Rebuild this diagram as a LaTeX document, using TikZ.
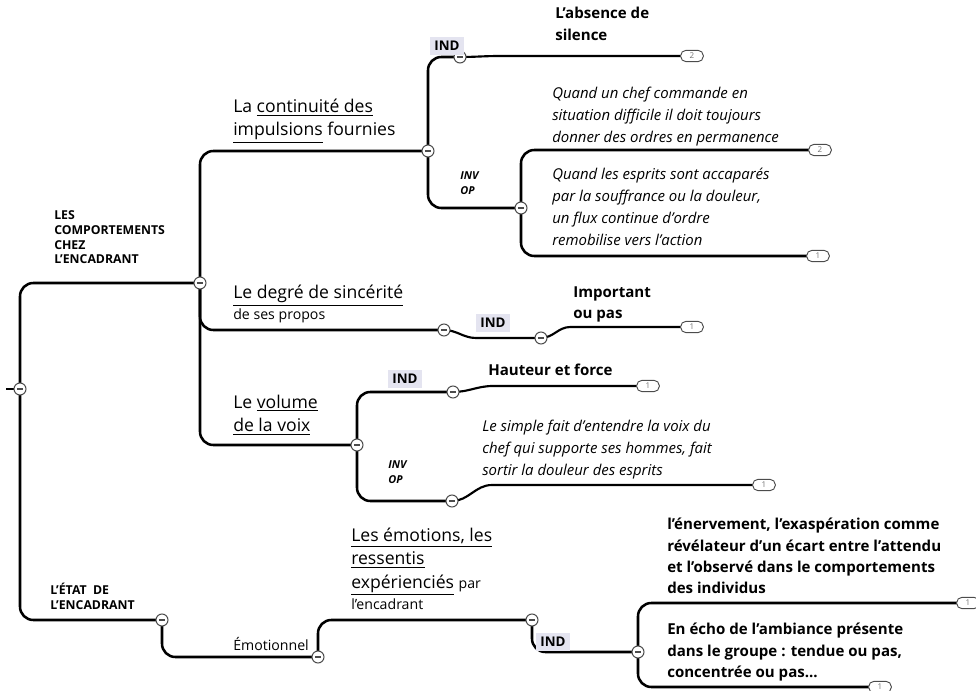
\documentclass[tikz,border=0pt]{standalone}
\usepackage{fontspec}
\setmainfont{Open Sans}
\usetikzlibrary{backgrounds}
\definecolor{indbg}{HTML}{E4E4F0}
\begin{document}
\begin{tikzpicture}[x=0.75pt,y=-0.75pt,
  conn/.style={line width=1.9pt, rounded corners=10pt},
  leaf/.style={line width=1.6pt},
  minus/.style={circle, draw=black!70, line width=0.8pt, fill=white, minimum size=9pt, inner sep=0pt,
    path picture={\draw[line width=0.9pt] ([xshift=-2.3pt]path picture bounding box.center) -- ([xshift=2.3pt]path picture bounding box.center);}},
  pill/.style={draw=black!70, line width=0.7pt, fill=white, rounded corners=4pt, minimum width=17pt, minimum height=8.5pt, inner sep=0pt, font=\fontsize{6}{6}\selectfont, text=black!55},
  indlab/.style={fill=indbg, font=\bfseries\fontsize{10}{11}\selectfont, inner xsep=3.5pt, inner ysep=3pt},
  capsl/.style={font=\bfseries\fontsize{9.2}{11.2}\selectfont, align=left, anchor=north west, inner sep=0pt},
  bigl/.style={font=\fontsize{13.2}{17.4}\selectfont, align=left, anchor=north west, inner sep=0pt},
  smalll/.style={font=\fontsize{10.6}{13}\selectfont, align=left, anchor=north west, inner sep=0pt},
  boldl/.style={font=\bfseries\fontsize{11.3}{16}\selectfont, align=left, anchor=north west, inner sep=0pt},
  itl/.style={font=\itshape\fontsize{11.2}{16.4}\selectfont, align=left, anchor=north west, inner sep=0pt},
  invop/.style={font=\bfseries\itshape\fontsize{8.2}{11.8}\selectfont, align=left, anchor=north west, inner sep=0pt}
]
\useasboundingbox (0,0) rectangle (976,691);

% junction nodes
\node[minus] (r) at (20,389) {};
\node[minus] (c1) at (200,283) {};
\node[minus] (c11) at (428,151) {};
\node[minus] (c111) at (460,57) {};
\node[minus] (c112) at (521,208) {};
\node[minus] (c12) at (444,330) {};
\node[minus] (c121) at (541,338) {};
\node[minus] (c13) at (357,445) {};
\node[minus] (c131) at (453,392) {};
\node[minus] (c132) at (452,501) {};
\node[minus] (c2) at (162,620) {};
\node[minus] (c21) at (318,657) {};
\node[minus] (c211) at (532,620) {};
\node[minus] (c2111) at (638,652) {};
% end pills
\node[pill] (p1) at (692,56) {2};
\node[pill] (p2) at (820,150) {2};
\node[pill] (p3) at (818,256) {1};
\node[pill] (p4) at (692,327) {1};
\node[pill] (p5) at (648,386) {1};
\node[pill] (p6) at (764,485) {1};
\node[pill] (p7) at (968,603) {1};
\node[pill] (p8) at (880,687) {1};
\coordinate (stub) at (6,389);

\begin{scope}[on background layer]
\draw[conn] (stub) -- (r.center);
\draw[conn] (r.center) |- (c1.center);
\draw[conn] (r.center) |- (c2.center);
\draw[conn] (c1.center) |- (c11.center);
\draw[conn] (c1.center) |- (c12.center);
\draw[conn] (c1.center) |- (c13.center);
\draw[conn] (c11.center) |- (c111.center);
\draw[conn] (c11.center) |- (c112.center);
\draw[conn] (c112.center) |- (p2.center);
\draw[conn] (c112.center) |- (p3.center);
\draw[conn] (c13.center) |- (c131.center);
\draw[conn] (c13.center) |- (c132.center);
\draw[conn] (c2.center) |- (c21.center);
\draw[conn] (c21.center) |- (c211.center);
\draw[conn] (c211.center) |- (c2111.center);
\draw[conn] (c2111.center) |- (p7.center);
\draw[conn] (c2111.center) |- (p8.center);
\draw[leaf] (c111.center) to[out=0,in=180] ([xshift=30pt]c111.center |- p1.center) -- (p1.center);
\draw[leaf] (c12.center) to[out=0,in=180] ([xshift=24pt]c12.center |- c121.center) -- (c121.center);
\draw[leaf] (c121.center) to[out=0,in=180] ([xshift=22pt]c121.center |- p4.center) -- (p4.center);
\draw[leaf] (c131.center) to[out=0,in=180] ([xshift=30pt]c131.center |- p5.center) -- (p5.center);
\draw[leaf] (c132.center) to[out=0,in=180] ([xshift=30pt]c132.center |- p6.center) -- (p6.center);
\end{scope}

% IND labels
\node[indlab] (i1) at (447,46) {IND};
\node[indlab] (i2) at (493,323) {IND};
\node[indlab] (i3) at (405,379) {IND};
\node[indlab] (i4) at (553,642) {IND};

% texts
\node[capsl] (t1) at (54,210) {LES\\COMPORTEMENTS\\CHEZ\\L'ENCADRANT};
\node[capsl] (t2) at (50,583) {L'ÉTAT\ \ DE\\L'ENCADRANT};
\node[bigl] (t11) at (233,99) {La \underline{continuité des}\\\underline{impulsions} fournies};
\node[bigl] (t12) at (233,285) {\underline{Le degré de sincérité}};
\node[smalll] (t12b) at (233,308) {de ses propos};
\node[bigl] (t13) at (233,395) {Le \underline{volume}\\\underline{de la voix}};
\node[smalll] (t21) at (233,637) {Émotionnel};
\node[bigl] (t211) at (351,528) {\underline{Les émotions, les}\\\underline{ressentis}\\\underline{expérienciés} {\fontsize{10.6}{12}\selectfont par}};
\node[smalll] (t211b) at (351,598) {l'encadrant};
\node[boldl] (t111) at (555,7) {L'absence de\\silence};
\node[invop] (io1) at (460,171) {INV\\OP};
\node[itl] (t1121) at (552,87) {Quand un chef commande en\\situation difficile il doit toujours\\donner des ordres en permanence};
\node[itl] (t1122) at (552,168) {Quand les esprits sont accaparés\\par la souffrance ou la douleur,\\un flux continue d'ordre\\remobilise vers l'action};
\node[boldl] (t121) at (573,286) {Important\\ou pas};
\node[boldl] (t131) at (488,364) {Hauteur et force};
\node[invop] (io2) at (388,460) {INV\\OP};
\node[itl] (t132) at (482,420) {Le simple fait d'entendre la voix du\\chef qui supporte ses hommes, fait\\sortir la douleur des esprits};
\node[boldl] (t2111a) at (667,518) {l'énervement, l'exaspération comme\\révélateur d'un écart entre l'attendu\\et l'observé dans le comportements\\des individus};
\node[boldl] (t2111b) at (667,623) {En écho de l'ambiance présente\\dans le groupe : tendue ou pas,\\concentrée ou pas...};
\end{tikzpicture}
\end{document}
